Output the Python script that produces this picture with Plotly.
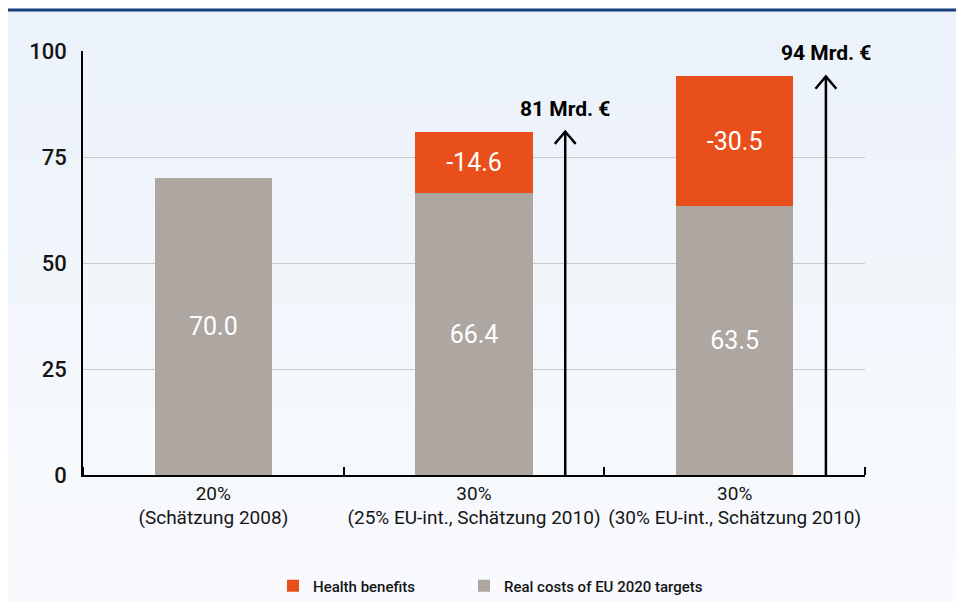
import plotly.graph_objects as go

categories = ["20%<br>(Schätzung 2008)",
              "30%<br>(25% EU-int., Schätzung 2010)",
              "30%<br>(30% EU-int., Schätzung 2010)"]
real_costs = [70.0, 66.4, 63.5]
health_benefits = [None, 14.6, 30.5]
totals = [None, 81, 94]
total_labels = [None, "81 Mrd. €", "94 Mrd. €"]
y_ticks = [0, 25, 50, 75, 100]

FAM = "Roboto, DejaVu Sans, sans-serif"
GREY = "#aea6a0"
ORANGE = "#e84f1a"

W, H = 956, 594
ML, MR, MT, MB = 75, 99, 43, 127
PW, PH = W - ML - MR, H - MT - MB


def F(size, color="#151515", weight="normal"):
    return dict(family=FAM, size=size, color=color, weight=weight)


def px_x(px):
    return (px - ML) / PW


def px_y(py):
    return (H - MB - py) / PH


xs = list(range(len(categories)))

fig = go.Figure()
fig.add_trace(go.Bar(
    x=xs, y=real_costs, name="Real costs of EU 2020 targets",
    marker=dict(color=GREY, line=dict(width=0)), width=0.45,
    text=[f"{v:.1f}" for v in real_costs], textposition="inside",
    insidetextanchor="middle", textangle=0,
    textfont=F(25, "white"), legend="legend2",
))
fig.add_trace(go.Bar(
    x=xs, y=health_benefits, name="Health benefits",
    marker=dict(color=ORANGE, line=dict(width=0)), width=0.45,
    text=[("" if v is None else f"-{v:.1f}") for v in health_benefits],
    textposition="inside", insidetextanchor="middle", textangle=0,
    textfont=F(25, "white"), legend="legend",
))

# arrows for totals
for i, t in enumerate(totals):
    if t is None:
        continue
    ax = xs[i] + 0.35
    fig.add_trace(go.Scatter(x=[ax, ax], y=[0, t], mode="lines",
                             line=dict(color="black", width=2.5),
                             showlegend=False, hoverinfo="skip"))
    fig.add_trace(go.Scatter(x=[ax - 0.04, ax, ax + 0.04], y=[t - 2.9, t, t - 2.9],
                             mode="lines", line=dict(color="black", width=2.5),
                             showlegend=False, hoverinfo="skip"))
    fig.add_annotation(x=ax, y=t, text=total_labels[i], showarrow=False,
                       yanchor="bottom", yshift=9, xanchor="center",
                       font=F(21, "black", "bold"))

leg_common = dict(orientation="h", yanchor="middle", xanchor="left",
                  font=F(15, weight=500), bgcolor="rgba(0,0,0,0)", itemwidth=30)

# background gradient bands
shapes = []
top_c = (236, 242, 250)
bot_c = (248, 250, 253)
n = 12
for k in range(n):
    f = k / (n - 1)
    c = tuple(round(top_c[j] + (bot_c[j] - top_c[j]) * f) for j in range(3))
    y0p = k * H / n
    y1p = (k + 1) * H / n + 1
    shapes.append(dict(type="rect", xref="paper", yref="paper", layer="below",
                       x0=px_x(-10), x1=px_x(W + 10), y0=px_y(y1p), y1=px_y(y0p),
                       fillcolor="rgb(%d,%d,%d)" % c, line=dict(width=0)))
shapes.append(dict(type="rect", xref="paper", yref="paper", layer="below",
                   x0=px_x(-10), x1=px_x(W + 10), y0=px_y(2), y1=px_y(-10),
                   fillcolor="white", line=dict(width=0)))
shapes.append(dict(type="line", xref="paper", yref="paper",
                   x0=px_x(-3), x1=px_x(W + 10), y0=px_y(2), y1=px_y(2),
                   line=dict(color="#173f7c", width=3)))

fig.update_layout(
    width=W, height=H,
    barmode="stack",
    margin=dict(l=ML, r=MR, t=MT, b=MB, autoexpand=False),
    paper_bgcolor="#eef3fa",
    plot_bgcolor="rgba(0,0,0,0)",
    font=F(17),
    showlegend=True,
    legend=dict(x=px_x(265), y=px_y(578), **leg_common),
    legend2=dict(x=px_x(456), y=px_y(578), **leg_common),
    xaxis=dict(range=[-0.5, 2.5], tickvals=xs, ticktext=categories,
               ticks="", showgrid=False, zeroline=False, tickangle=0, automargin=False,
               showline=True, linecolor="black", linewidth=1.5,
               tickfont=F(19),
               minor=dict(tick0=-0.5, dtick=1, ticks="inside", ticklen=8,
                          tickcolor="black", tickwidth=1.5, showgrid=False)),
    yaxis=dict(range=[0, 100], tickvals=y_ticks, ticks="", showgrid=True,
               gridcolor="#c9c9c9", gridwidth=1, zeroline=False, automargin=False,
               showline=True, linecolor="black", linewidth=1.5,
               ticklabelstandoff=10,
               tickfont=F(22, weight=500)),
    shapes=shapes,
)

fig.write_html("out.html")
